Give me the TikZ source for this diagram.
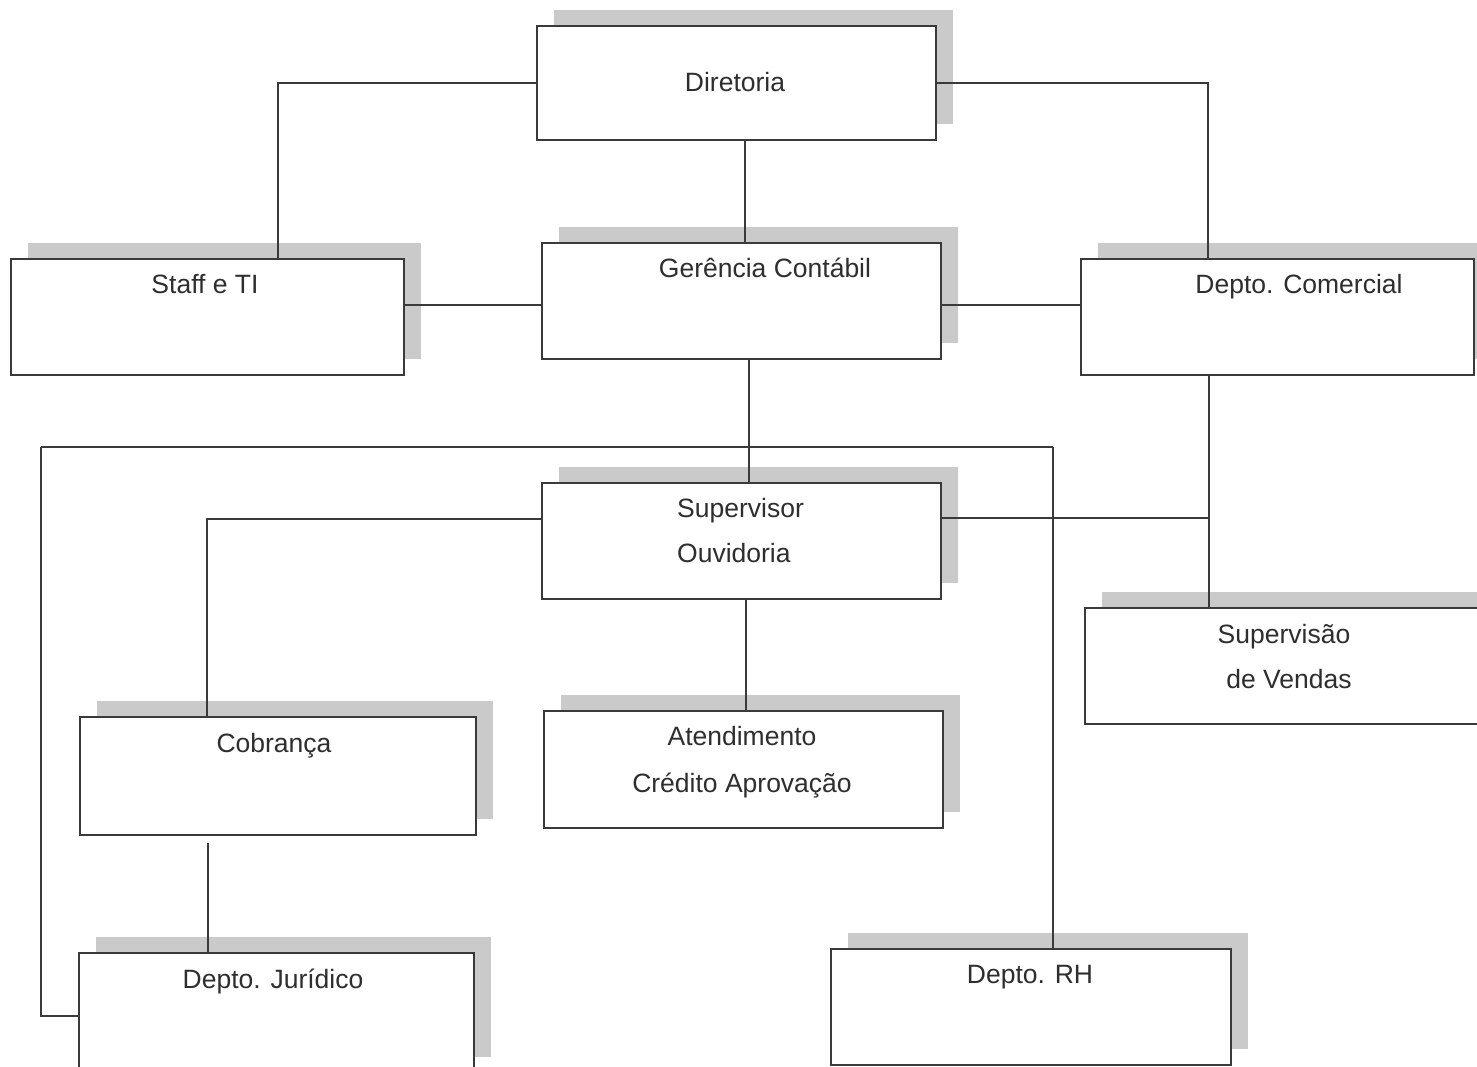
\documentclass[tikz,border=0pt]{standalone}
\usepackage{fontspec}
\setmainfont{Liberation Sans}
\usetikzlibrary{shadows}
\definecolor{linecol}{HTML}{3A3A3A}
\definecolor{shadowcol}{HTML}{CACACA}
\definecolor{txtcol}{HTML}{2E2E2E}
\begin{document}
\begin{tikzpicture}[x=1pt,y=-1pt,
  orgbox/.style={rectangle, draw=linecol, line width=1.6pt, fill=white, inner sep=0pt,
    anchor=north west,
    general shadow={fill=shadowcol, shadow xshift=17pt, shadow yshift=16pt}},
  lbl/.style={anchor=base, text=txtcol, font=\fontsize{26.5}{46}\selectfont, inner sep=0pt},
  conn/.style={draw=linecol, line width=1.6pt}]
\useasboundingbox (0,0) rectangle (1477,1066);
\clip (0,0) rectangle (1477,1066);

% boxes
\node[orgbox, minimum width=399pt, minimum height=114pt] (dir)  at (536,25)  {};
\node[orgbox, minimum width=393pt, minimum height=116pt] (staff) at (10,258) {};
\node[orgbox, minimum width=399pt, minimum height=116pt] (ger)  at (541,242) {};
\node[orgbox, minimum width=393pt, minimum height=116pt] (com)  at (1080,258) {};
\node[orgbox, minimum width=399pt, minimum height=116pt] (sup)  at (541,482) {};
\node[orgbox, minimum width=396pt, minimum height=116pt] (vend) at (1084,607) {};
\node[orgbox, minimum width=396pt, minimum height=118pt] (cob)  at (79,716)  {};
\node[orgbox, minimum width=399pt, minimum height=117pt] (aten) at (543,710) {};
\node[orgbox, minimum width=395pt, minimum height=120pt] (jur)  at (78,952)  {};
\node[orgbox, minimum width=400pt, minimum height=116pt] (rh)   at (830,948) {};

% texts
\node[lbl] (t-dir)   at (735,91)   {Diretoria};
\node[lbl] (t-staff) at (205,293)  {Staff e TI};
\node[lbl] (t-ger)   at (765,277)  {Gerência Contábil};
\node[lbl] (t-com)   at (1299,293) {Depto. Comercial};
\node[lbl, anchor=base west] (t-sup1) at (677,517) {Supervisor};
\node[lbl, anchor=base west] (t-sup2) at (677,562) {Ouvidoria};
\node[lbl] (t-vend1) at (1284,643) {Supervisão};
\node[lbl] (t-vend2) at (1289,688) {de Vendas};
\node[lbl] (t-cob)   at (274,752)  {Cobrança};
\node[lbl] (t-aten1) at (742,745)  {Atendimento};
\node[lbl] (t-aten2) at (742,792)  {Crédito Aprovação};
\node[lbl] (t-jur)   at (273,988)  {Depto. Jurídico};
\node[lbl] (t-rh)    at (1030,983) {Depto. RH};

% helper coordinates
\coordinate (busL) at (41,447);
\coordinate (busR) at (1053,447);
\coordinate (comv) at ([xshift=-68.5pt]com.south);

% connectors
\draw[conn] (dir.west) -| ([xshift=70.5pt]staff.north);
\draw[conn] (dir.east) -| ([xshift=-69.5pt]com.north);
\draw[conn] ([xshift=8.5pt]dir.south) -- ([xshift=8.5pt]dir.south |- ger.north);
\draw[conn] ([yshift=12pt]staff.east) -- ([yshift=12pt]staff.east -| ger.west);
\draw[conn] ([yshift=-4pt]ger.east) -- ([yshift=-4pt]ger.east -| com.west);
\draw[conn] ([xshift=7.5pt]ger.south) -- ([xshift=7.5pt]ger.south |- sup.north);
\draw[conn] (busL) -- (busR);
\draw[conn] (busL) |- ([yshift=-3pt]jur.west);
\draw[conn] (busR) -- (busR |- rh.north);
\draw[conn] ([yshift=22pt]sup.west) -| ([xshift=-71pt]cob.north);
\draw[conn] ([yshift=23pt]sup.east) -- ([yshift=23pt]sup.east -| comv);
\draw[conn] (comv) -- (comv |- vend.north);
\draw[conn] ([xshift=4.5pt]sup.south) -- ([xshift=4.5pt]sup.south |- aten.north);
\draw[conn] ([xshift=-70pt,yshift=-7pt]cob.south) -- ([xshift=-70pt]cob.south |- jur.north);
\end{tikzpicture}
\end{document}
